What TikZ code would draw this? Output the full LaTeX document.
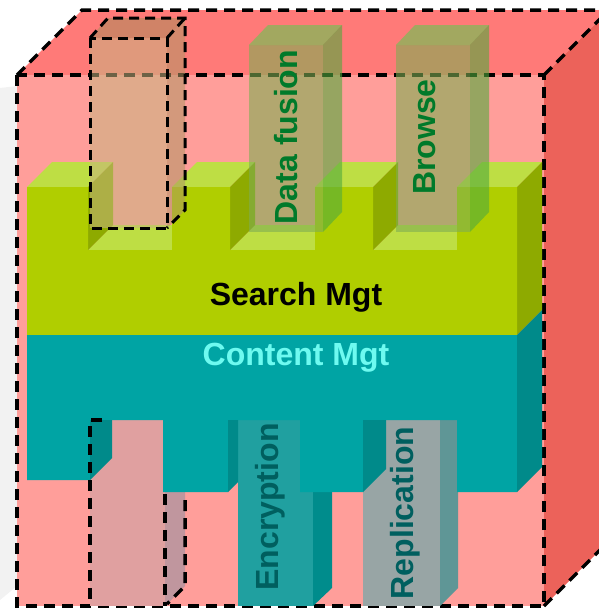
\documentclass[tikz,border=0pt]{standalone}
\usepackage{fontspec}
\setmainfont{Liberation Sans}
\usepackage{xcolor}
\definecolor{backdrop}{RGB}{242,242,242}
\definecolor{cubefront}{RGB}{255,158,154}
\definecolor{cubetop}{RGB}{255,122,120}
\definecolor{cuberight}{RGB}{236,98,90}
\definecolor{searchfront}{RGB}{176,206,0}
\definecolor{searchtop}{RGB}{190,222,68}
\definecolor{searchside}{RGB}{142,170,0}
\definecolor{contentfront}{RGB}{0,164,164}
\definecolor{contentside}{RGB}{0,138,138}
\definecolor{contenttext}{RGB}{110,250,240}
\definecolor{tanfront}{RGB}{200,180,128}
\definecolor{tantop}{RGB}{170,140,90}
\definecolor{tanside}{RGB}{175,150,100}
\definecolor{colfront}{RGB}{127,173,83}
\definecolor{coltop}{RGB}{100,200,80}
\definecolor{colside}{RGB}{80,170,60}
\definecolor{coltext}{RGB}{0,122,42}
\definecolor{pinkfront}{RGB}{224,160,160}
\definecolor{pinkside}{RGB}{192,150,158}
\definecolor{cryptfront}{RGB}{32,160,160}
\definecolor{cryptside}{RGB}{0,140,140}
\definecolor{replfront}{RGB}{152,165,165}
\definecolor{replside}{RGB}{95,150,150}
\definecolor{tealtext}{RGB}{0,95,95}

\begin{document}
\begin{tikzpicture}[x=1pt,y=-1pt]
  \tikzstyle{every node}=[inner sep=0pt,font=\fontsize{32}{38}\selectfont\bfseries]
  \tikzstyle{edge}=[black,line width=3.5pt,dash pattern=on 11pt off 7pt]
  \tikzstyle{vlabel}=[rotate=90,anchor=base]
  \tikzstyle{glass}=[opacity=0.6]
  \useasboundingbox (0,0) rectangle (599,608);
  \clip (0,0) rectangle (599,608);

  \fill[backdrop] (0,88) -- (17,86) -- (17,586) -- (0,600) -- cycle;

  % outer box
  \fill[cubetop] (17,75) -- (82,10) -- (609,10) -- (544,75) -- cycle;
  \fill[cuberight] (544,75) -- (609,10) -- (609,541) -- (544,606) -- cycle;
  \fill[cubefront] (17,75) rectangle (544,606);
  \draw[edge] (17,75) rectangle (544,606);
  \draw[edge] (17,75) -- (82,10) -- (609,10);
  \draw[edge] (544,75) -- (609,10);
  \draw[edge] (544,606) -- (609,541);

  % search layer
  \foreach \a/\b in {27/88,172/230,315/373,457/517}
    \fill[searchtop] (\a,187) -- (\a+25,162) -- (\b+25,162) -- (\b,187) -- cycle;
  \foreach \a/\b in {88/172,230/315,373/457}
    \fill[searchtop] (\a,250) -- (\a+25,225) -- (\b+25,225) -- (\b,250) -- cycle;
  \foreach \b in {88,230,373}
    \fill[searchside] (\b,187) -- (\b+25,162) -- (\b+25,225) -- (\b,250) -- cycle;
  \fill[searchside] (517,187) -- (542,162) -- (542,310) -- (517,335) -- cycle;
  \fill[searchfront] (27,187) -- (88,187) -- (88,250) -- (172,250) -- (172,187)
    -- (230,187) -- (230,250) -- (315,250) -- (315,187) -- (373,187) -- (373,250)
    -- (457,250) -- (457,187) -- (517,187) -- (517,335) -- (27,335) -- cycle;

  % lower pillars
  \fill[pinkfront] (90,420) rectangle (165,606);
  \fill[pinkside] (165,420) -- (185,400) -- (185,586) -- (165,606) -- cycle;
  \fill[cryptfront] (238,420) rectangle (313,606);
  \fill[cryptside] (313,420) -- (332,400) -- (332,588) -- (313,606) -- cycle;
  \fill[replfront] (363,420) rectangle (440,606);
  \fill[replside] (440,420) -- (458,400) -- (458,588) -- (440,606) -- cycle;

  % content layer
  \fill[contentfront] (27,335) -- (517,335) -- (517,492) -- (457,492) -- (457,420)
    -- (363,420) -- (363,492) -- (300,492) -- (300,420) -- (228,420) -- (228,492)
    -- (163,492) -- (163,420) -- (90,420) -- (90,480) -- (27,480) -- cycle;
  \fill[contentside] (517,335) -- (542,310) -- (542,467) -- (517,492) -- cycle;
  \fill[contentside] (90,420) -- (112,420) -- (112,458) -- (90,480) -- cycle;
  \fill[contentside] (228,420) -- (238,420) -- (238,482) -- (228,492) -- cycle;
  \fill[contentside] (363,420) -- (386,420) -- (386,469) -- (363,492) -- cycle;
  \draw[edge] (102,420) -- (90,420) -- (90,606);
  \draw[edge] (165,494) -- (165,606);
  \draw[edge] (185,500) -- (185,586) -- (167,604);

  % upper pillars
  \fill[tanfront,opacity=0.55] (90,38) rectangle (167,228);
  \fill[tantop,opacity=0.55] (90,38) -- (108,18) -- (185,18) -- (167,38) -- cycle;
  \fill[tanside,opacity=0.55] (167,38) -- (185,18) -- (185,210) -- (167,228) -- cycle;
  \draw[edge,line width=3pt,dash pattern=on 10pt off 6pt] (90,38) rectangle (167,228);
  \draw[edge,line width=3pt,dash pattern=on 10pt off 6pt] (90,38) -- (108,18) -- (185,18) -- (185,210) -- (167,228);
  \draw[edge,line width=3pt,dash pattern=on 10pt off 6pt] (167,38) -- (185,18);
  \foreach \x in {249,396} {
    \fill[colfront,glass] (\x,45) rectangle (\x+74,232);
    \fill[coltop,glass] (\x,45) -- (\x+19,25) -- (\x+93,25) -- (\x+74,45) -- cycle;
    \fill[colside,glass] (\x+74,45) -- (\x+93,25) -- (\x+93,212) -- (\x+74,232) -- cycle;
  }

  \node[vlabel,text=coltext] (fusion) at (297,137) {Data fusion};
  \node[vlabel,text=coltext] (browse) at (435,137) {Browse};
  \node[vlabel,text=tealtext] (encrypt) at (278,507) {Encryption};
  \node[vlabel,text=tealtext] (replic) at (413,513) {Replication};
  \node[anchor=base] (search) at (296,305) {Search Mgt};
  \node[anchor=base,text=contenttext] (content) at (296,365) {Content Mgt};
\end{tikzpicture}
\end{document}
